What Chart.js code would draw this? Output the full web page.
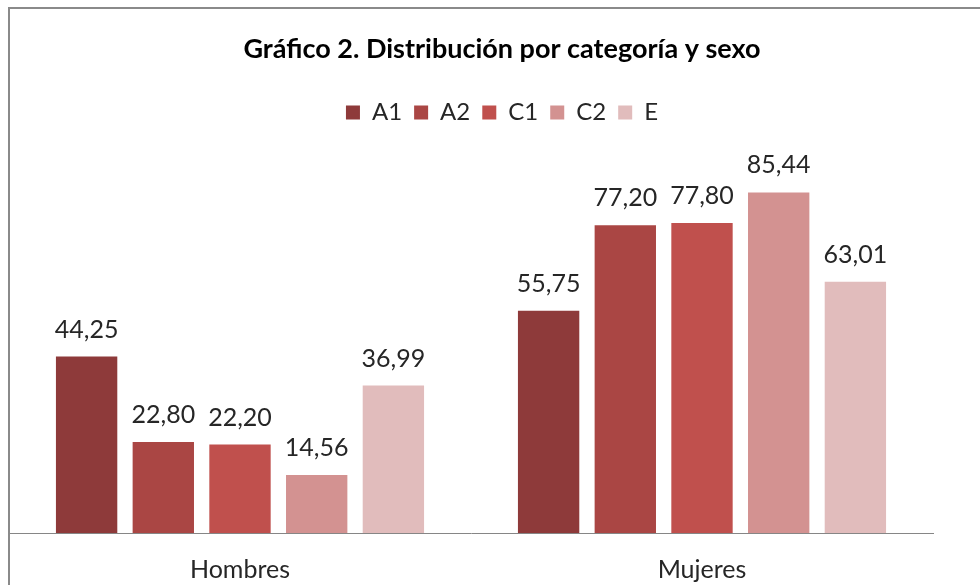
<!DOCTYPE html>
<html>
<head>
    <meta charset="utf-8"/>
    <title>Gráfico 2</title>
    <style>
        html, body { margin: 0; padding: 0; background: #fff; overflow: hidden; }
        #wrap { position: relative; width: 995px; height: 585px; }
        #chart { position: absolute; left: 0; top: 0; }
        #frame {
            position: absolute; left: 8px; top: 7px; width: 1100px; height: 700px;
            border: 2px solid #8a8a8a; pointer-events: none;
        }
    </style>
    <script src="https://cdn.jsdelivr.net/npm/chart.js@4/dist/chart.umd.min.js"></script>
    <script>
        // datos del gráfico
        const categorias = ['Hombres', 'Mujeres'];
        const series = ['A1', 'A2', 'C1', 'C2', 'E'];
        const valoresA1 = [44.25, 55.75];
        const valoresA2 = [22.80, 77.20];
        const valoresC1 = [22.20, 77.80];
        const valoresC2 = [14.56, 85.44];
        const valoresE = [36.99, 63.01];
        const colores = ['#8e3a3a', '#aa4644', '#c0504d', '#d39291', '#e1bcbc'];

        const FONT = 'Lato, "Open Sans", sans-serif';

        // etiquetas de valor encima de cada barra (coma decimal)
        const etiquetas = {
            id: 'etiquetas',
            afterDatasetsDraw(chart) {
                const ctx = chart.ctx;
                ctx.save();
                ctx.font = '25px ' + FONT;
                ctx.fillStyle = '#262626';
                ctx.textAlign = 'center';
                ctx.textBaseline = 'alphabetic';
                chart.data.datasets.forEach((ds, i) => {
                    chart.getDatasetMeta(i).data.forEach((bar, j) => {
                        const txt = ds.data[j].toFixed(2).replace('.', ',');
                        ctx.fillText(txt, bar.x, bar.y - 19);
                    });
                });
                ctx.restore();
            }
        };

        function onStart() {
            const valores = [valoresA1, valoresA2, valoresC1, valoresC2, valoresE];
            const ctx = document.getElementById('chart').getContext('2d');
            new Chart(ctx, {
                type: 'bar',
                data: {
                    labels: categorias,
                    datasets: series.map((s, i) => ({
                        label: s,
                        data: valores[i],
                        backgroundColor: colores[i],
                        barPercentage: 0.8,
                        categoryPercentage: 0.83,
                    })),
                },
                options: {
                    responsive: false,
                    animation: false,
                    layout: { padding: { left: 9, right: 0, top: 1, bottom: 1 } },
                    plugins: {
                        title: {
                            display: true,
                            text: 'Gráfico 2. Distribución por categoría y sexo',
                            color: '#000',
                            font: { family: FONT, size: 27, weight: 'bold', lineHeight: 1.2 },
                            padding: { top: 32, bottom: 23 },
                        },
                        legend: {
                            position: 'top',
                            labels: {
                                color: '#262626',
                                font: { family: FONT, size: 24 },
                                boxWidth: 14,
                                boxHeight: 14,
                                padding: 12,
                            },
                        },
                        tooltip: { enabled: false },
                    },
                    scales: {
                        x: {
                            grid: { display: false, drawTicks: false },
                            border: { display: true, color: '#868686', width: 1 },
                            ticks: { color: '#262626', font: { family: FONT, size: 25 }, padding: 22 },
                            afterFit(axis) { axis.height = 51; },
                        },
                        y: {
                            position: 'right',
                            min: 0,
                            max: 100,
                            grid: { display: false },
                            border: { display: false },
                            ticks: { display: false },
                            afterFit(axis) { axis.width = 62; },
                        },
                    },
                },
                plugins: [etiquetas],
            });
        }
    </script>
</head>
<body onload="onStart();">
<div id="wrap">
    <canvas id="chart" width="995" height="585"></canvas>
    <div id="frame"></div>
</div>
</body>
</html>
